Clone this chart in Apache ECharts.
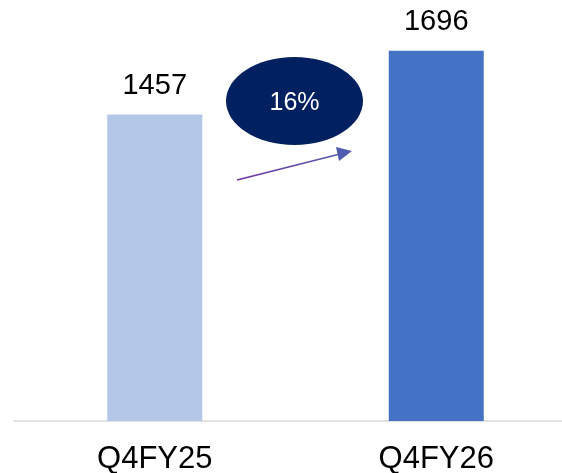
<!DOCTYPE html>
<html><head><meta charset="utf-8">
<script src="https://cdn.jsdelivr.net/npm/echarts@6/dist/echarts.min.js"></script>
<style>html,body{margin:0;padding:0;background:#fff}#c{width:562px;height:473px}</style>
</head><body><div id="c"></div>
<script>
const categories = ['Q4FY25', 'Q4FY26'];
const values = [1457, 1696];
const barColors = ['#B4C7E7', '#4472C4'];
const growthPct = Math.round((values[1] / values[0] - 1) * 100) + '%';

const chart = echarts.init(document.getElementById('c'), null, {renderer: 'canvas'});
const FONT = '"Liberation Sans", Arial, sans-serif';
chart.setOption({
  animation: false,
  grid: {left: 14, width: 563, top: 23, bottom: 52, outerBoundsMode: 'none', containLabel: false},
  xAxis: {
    type: 'category', data: categories,
    axisLine: {lineStyle: {color: '#D9D9D9', width: 1.5}},
    axisTick: {show: false},
    axisLabel: {fontFamily: FONT, fontSize: 31, color: '#000', margin: 23}
  },
  yAxis: {type: 'value', min: 310, max: 1800, show: false, splitLine: {show: false}},
  series: [{
    type: 'bar', barWidth: 95,
    data: values.map((v, i) => ({value: v, itemStyle: {color: barColors[i]}})),
    label: {show: true, position: 'top', distance: 14, fontFamily: FONT, fontSize: 29, color: '#000'}
  }],
  graphic: [
    {type: 'ellipse', shape: {cx: 294.5, cy: 101, rx: 68.5, ry: 44}, style: {fill: '#002060'}, z: 10},
    {type: 'text', x: 294.5, y: 103, style: {text: growthPct, fill: '#fff', font: '25px ' + FONT, align: 'center', verticalAlign: 'middle'}, z: 11},
    {type: 'line', shape: {x1: 237, y1: 180, x2: 340, y2: 154}, style: {stroke: new echarts.graphic.LinearGradient(0, 0, 1, 0, [{offset: 0, color: '#7030A0'}, {offset: 1, color: '#4F5BB0'}]), lineWidth: 1.3}, z: 10},
    {type: 'polygon', shape: {points: [[352, 151], [336, 147], [339, 161]]}, style: {fill: '#4F5BB0'}, z: 10}
  ]
});
</script></body></html>
